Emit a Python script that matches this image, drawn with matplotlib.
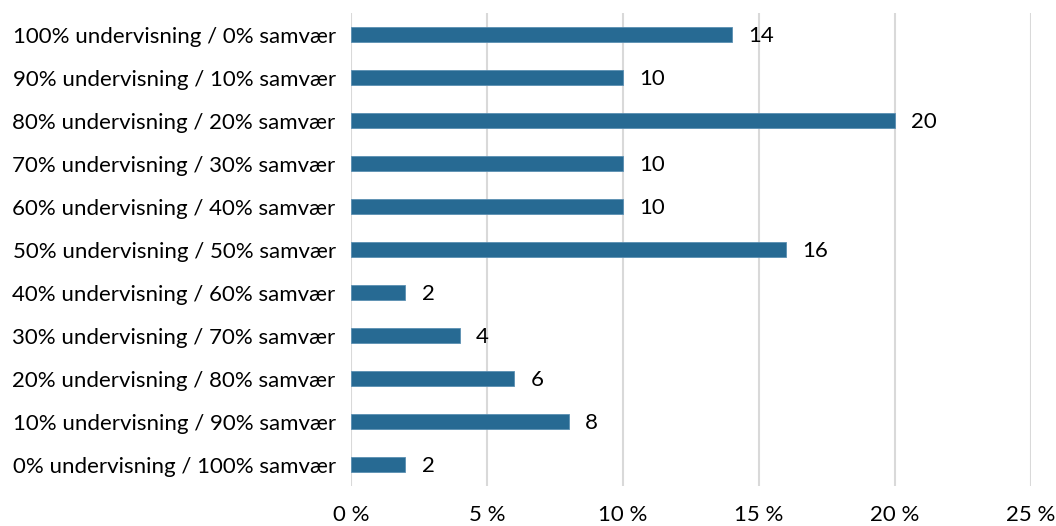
import matplotlib
matplotlib.use("Agg")
import matplotlib.pyplot as plt
from matplotlib.ticker import FuncFormatter

plt.rcParams['font.family'] = ['Lato', 'DejaVu Sans']

categories = [
    "100% undervisning / 0% samvær",
    "90% undervisning / 10% samvær",
    "80% undervisning / 20% samvær",
    "70% undervisning / 30% samvær",
    "60% undervisning / 40% samvær",
    "50% undervisning / 50% samvær",
    "40% undervisning / 60% samvær",
    "30% undervisning / 70% samvær",
    "20% undervisning / 80% samvær",
    "10% undervisning / 90% samvær",
    "0% undervisning / 100% samvær",
]
values = [14, 10, 20, 10, 10, 16, 2, 4, 6, 8, 2]
xticks = [0, 5, 10, 15, 20, 25]

bar_color = "#276a93"
fs = 16

fig = plt.figure(figsize=(10.56, 5.26), dpi=100)
ax = fig.add_axes([0.3324, 0.076, 0.6439, 0.899])

ypos = list(range(len(categories)))[::-1]
ax.barh(ypos, values, height=0.35, color=bar_color, edgecolor="#5b8fb2", linewidth=0.6, zorder=3)

for y, v in zip(ypos, values):
    ax.text(v + 0.6, y - 0.04, str(v), va="center", ha="left", fontsize=fs, color="black")

ax.set_xlim(0, 25)
ax.set_ylim(-0.5, len(categories) - 0.5)
ax.set_xticks(xticks)
ax.xaxis.set_major_formatter(FuncFormatter(lambda x, p: f"{int(x)} %"))
ax.set_yticks(ypos)
ax.set_yticklabels(categories)

ax.grid(axis="x", color="#d9d9d9", linewidth=1.5, zorder=0)
for s in ax.spines.values():
    s.set_visible(False)
ax.tick_params(axis="both", length=0, labelsize=fs, colors="black")
ax.tick_params(axis="x", pad=14)
ax.tick_params(axis="y", pad=11)

fig.savefig("out.png", dpi=100)
